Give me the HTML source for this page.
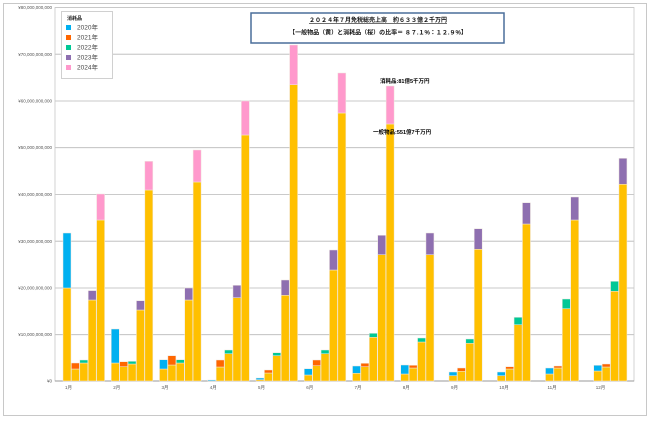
<!DOCTYPE html>
<html><head><meta charset="utf-8"><style>
body{margin:0;background:#fff;}
svg text{font-family:"Liberation Sans","Noto Sans CJK JP",sans-serif;}
</style></head><body>
<svg width="650" height="420" viewBox="0 0 650 420" xmlns="http://www.w3.org/2000/svg">
<rect x="0" y="0" width="650" height="420" fill="#fff"/>
<rect x="3.5" y="3.5" width="643" height="412" fill="none" stroke="#c8c8c8" stroke-width="1"/>
<g stroke="#b8b8b8" stroke-width="0.8">
<line x1="55" y1="7.5" x2="634" y2="7.5"/><line x1="55" y1="54.2" x2="634" y2="54.2"/>
<line x1="55" y1="101" x2="634" y2="101"/><line x1="55" y1="147.7" x2="634" y2="147.7"/>
<line x1="55" y1="194.5" x2="634" y2="194.5"/><line x1="55" y1="241.2" x2="634" y2="241.2"/>
<line x1="55" y1="288" x2="634" y2="288"/><line x1="55" y1="334.7" x2="634" y2="334.7"/>
</g>
<rect x="55" y="7.5" width="579" height="373.5" fill="none" stroke="#c8c8c8" stroke-width="0.8"/>
<line x1="55" y1="381" x2="634" y2="381" stroke="#999" stroke-width="1"/>
<g font-size="4.5" fill="#555" text-anchor="end">
<text x="52" y="9">¥80,000,000,000</text><text x="52" y="56">¥70,000,000,000</text>
<text x="52" y="102.5">¥60,000,000,000</text><text x="52" y="149">¥50,000,000,000</text>
<text x="52" y="196">¥40,000,000,000</text><text x="52" y="243">¥30,000,000,000</text>
<text x="52" y="289.5">¥20,000,000,000</text><text x="52" y="336">¥10,000,000,000</text>
<text x="52" y="382.5">¥0</text>
</g>
<g id="bars" stroke="#f0e8e0" stroke-width="0.5"></g>
<g id="labels" font-size="4.5" fill="#555"></g>
<rect x="61.5" y="11.5" width="51" height="67" fill="#fff" stroke="#d0d0d0" stroke-width="1"/>
<text x="67" y="20" font-size="5" font-weight="bold" fill="#222">消耗品</text>
<g font-size="6.5" fill="#444">
<rect x="66" y="25" width="5" height="5" fill="#00b0f0"/><text x="77" y="29.5">2020年</text>
<rect x="66" y="35" width="5" height="5" fill="#ff6600"/><text x="77" y="39.5">2021年</text>
<rect x="66" y="45" width="5" height="5" fill="#00c896"/><text x="77" y="49.5">2022年</text>
<rect x="66" y="55" width="5" height="5" fill="#8e6fb0"/><text x="77" y="59.5">2023年</text>
<rect x="66" y="65" width="5" height="5" fill="#ff99cc"/><text x="77" y="69.5">2024年</text>
</g>
<rect x="251" y="13" width="253" height="30" fill="#fff" stroke="#4a6e9a" stroke-width="1.5"/>
<text x="378" y="22" font-size="6" font-weight="bold" text-anchor="middle" fill="#111" text-decoration="underline">２０２４年７月免税総売上高　約６３３億２千万円</text>
<text x="378" y="34.5" font-size="6" font-weight="bold" text-anchor="middle" fill="#111">【一般物品（黄）と消耗品（桜）の比率＝ ８７.１%：１２.９%】</text>
<text x="380" y="83" font-size="5.5" font-weight="bold" fill="#000">消耗品:81億5千万円</text>
<text x="373" y="134" font-size="5.5" font-weight="bold" fill="#000">一般物品:551億7千万円</text>
</svg>
<script>
var d=[
[[288,233],[369,363],[363,360],[300,290.6],[220,194]],
[[363,329],[366.7,361.7],[364,361.3],[310,300.7],[190,161.3]],
[[369,359.7],[365,355.7],[363,359.7],[300,288],[182,150]],
[[381,380],[367,360],[353.7,350],[297.7,285.3],[135,101]],
[[379.7,378],[373,370],[355.7,352.7],[295.3,280],[84.7,45]],
[[375,368.7],[365.7,360],[353.7,350],[270,250],[113,73]],
[[373.3,366],[366.7,363.3],[337.3,333.3],[254.7,235.3],[124,86]],
[[374,365],[368,365.3],[342,338],[254.7,233]],
[[375.7,372],[371.3,368],[343.3,339],[249.3,228.7]],
[[375.7,372],[369,366.7],[324.7,317.3],[224,202.7]],
[[374,368],[368,366],[308.7,299],[220,197]],
[[371,365.3],[367,364],[291.3,281.3],[184.3,158.3]]];
var cols=["#00b0f0","#ff6600","#00c896","#8e6fb0","#ff99cc"];
var ns="http://www.w3.org/2000/svg",g=document.getElementById("bars"),lg=document.getElementById("labels");
function r(x,y,w,h,f){var e=document.createElementNS(ns,"rect");e.setAttribute("x",x);e.setAttribute("y",y);e.setAttribute("width",w);e.setAttribute("height",Math.max(h,0));e.setAttribute("fill",f);g.appendChild(e);}
d.forEach(function(m,mi){
 m.forEach(function(b,i){var x=55+48.25*mi+8+i*8.4;
  r(x,b[0],8,381-b[0],"#ffc000");r(x,b[1],8,b[0]-b[1],cols[i]);});
 var t=document.createElementNS(ns,"text");t.setAttribute("x",55+48.25*mi+10);t.setAttribute("y",389);t.textContent=(mi+1)+"月";lg.appendChild(t);
});
</script>
</body></html>
